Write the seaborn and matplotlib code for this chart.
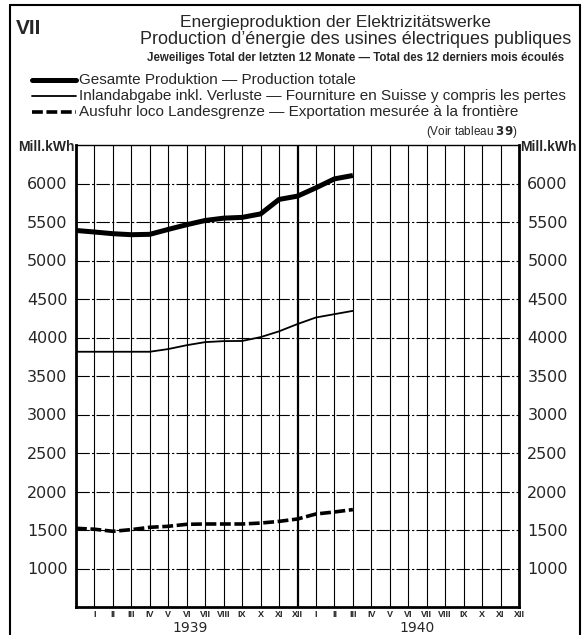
import numpy as np
import pandas as pd
import seaborn as sns
import matplotlib.pyplot as plt
from matplotlib.lines import Line2D

# months counted from end of Dec 1938 (0) to Mar 1940 (15)
months = list(range(16))
total = [5390, 5370, 5348, 5335, 5340, 5404, 5465, 5520, 5550, 5560,
         5605, 5793, 5836, 5944, 6060, 6104]
inland = [3815, 3815, 3815, 3815, 3815, 3850, 3900, 3940, 3953, 3955,
          4005, 4080, 4175, 4260, 4303, 4346]
export = [1522, 1510, 1483, 1505, 1535, 1548, 1574, 1578, 1578, 1578,
          1590, 1612, 1643, 1708, 1734, 1765]

roman = ["I", "II", "III", "IV", "V", "VI", "VII", "VIII", "IX", "X", "XI", "XII"]
month_labels = roman + roman
years = ["1939", "1940"]
yticks = [1000, 1500, 2000, 2500, 3000, 3500, 4000, 4500, 5000, 5500, 6000]

df = pd.DataFrame({"month": months, "total": total, "inland": inland, "export": export})

W, H = 587, 635


def px(x, y):
    return x / W, 1 - y / H


sns.set_style("white")
plt.rcParams['font.family'] = ['Liberation Sans', 'DejaVu Sans']

fig = plt.figure(figsize=(W / 100, H / 100), dpi=100)
ax = fig.add_axes([76 / W, 1 - 607 / H, (519 - 76) / W, (607 - 145) / H])

# grid
for m in range(1, 24):
    lw = 1.6 if m == 12 else 0.8
    ax.axvline(m, color="black", lw=lw, zorder=1)
for v in yticks:
    ax.axhline(v, color="black", lw=0.8, dashes=(12, 2, 2, 2), zorder=1)

sns.lineplot(data=df, x="month", y="total", ax=ax, color="black", lw=3.6,
             solid_capstyle="butt", zorder=3)
sns.lineplot(data=df, x="month", y="inland", ax=ax, color="black", lw=1.3, zorder=3)
sns.lineplot(data=df, x="month", y="export", ax=ax, color="black", lw=2.6,
             dashes=False, zorder=3).lines[-1].set_dashes((3, 1))

ax.set_xlim(0, 24)
ax.set_ylim(500, 6500)
ax.set_xlabel("")
ax.set_ylabel("")
ax.set_yticks(yticks)
ax.set_yticklabels([str(v) for v in yticks], family="DejaVu Sans", fontsize=11.5)
ax.set_xticks(range(1, 25))
ax.set_xticklabels(month_labels, fontsize=6.5, fontweight="bold")
ax.tick_params(axis="y", length=0, pad=6, labelright=True, labelleft=True)
ax.tick_params(axis="x", length=0, pad=2.5)
for side in ["left", "right", "bottom"]:
    ax.spines[side].set_linewidth(2)
    ax.spines[side].set_color("black")
ax.spines["top"].set_linewidth(1)
ax.spines["top"].set_color("black")

for xpos, yr in zip([6.2, 18.5], years):
    fig.text(76 / W + xpos / 24 * (519 - 76) / W, 1 - 628 / H, yr, ha="center",
             va="center", fontsize=10, family="DejaVu Sans")

# unit labels
fig.text(*px(75, 147), "Mill.kWh", ha="right", va="center", fontsize=10, fontweight="bold")
fig.text(*px(520, 147), "Mill.kWh", ha="left", va="center", fontsize=10, fontweight="bold")

# header
fig.text(*px(16, 29), "VII", ha="left", va="center", fontsize=15, fontweight="bold")
fig.text(*px(335, 22), "Energieproduktion der Elektrizitätswerke", ha="center",
         va="center", fontsize=12.5)
fig.text(*px(356, 40), "Production d\u2019énergie des usines électriques publiques",
         ha="center", va="center", fontsize=13)
fig.text(*px(356, 58), "Jeweiliges Total der letzten 12 Monate \u2014 Total des 12 derniers mois écoulés",
         ha="center", va="center", fontsize=8.3, fontweight="bold")

legend_rows = [
    ("Gesamte Produktion \u2014 Production totale", 3.6, None),
    ("Inlandabgabe inkl. Verluste \u2014 Fourniture en Suisse y compris les pertes", 1.3, None),
    ("Ausfuhr loco Landesgrenze \u2014 Exportation mesurée à la frontière", 2.6, (3, 1)),
]
for i, (label, lw, dash) in enumerate(legend_rows):
    y = 80 + 16 * i
    x0, y0 = px(32, y)
    x1, _ = px(76, y)
    ln = Line2D([x0, x1], [y0, y0], transform=fig.transFigure, color="black", lw=lw)
    if dash:
        ln.set_dashes(dash)
    fig.lines.append(ln)
    fig.text(*px(79, y), label, ha="left", va="center", fontsize=11)

fig.text(*px(517, 132), "(Voir tableau $\\bf{39}$)", ha="right", va="center", fontsize=8.5)

# outer frame
for xs, ys in [([10, 10], [5, 640]), ([580, 580], [5, 640]), ([10, 580], [5, 5])]:
    fx = [x / W for x in xs]
    fy = [1 - y / H for y in ys]
    fig.lines.append(Line2D(fx, fy, transform=fig.transFigure, color="black", lw=1.5))

fig.savefig("out.png", dpi=100)
